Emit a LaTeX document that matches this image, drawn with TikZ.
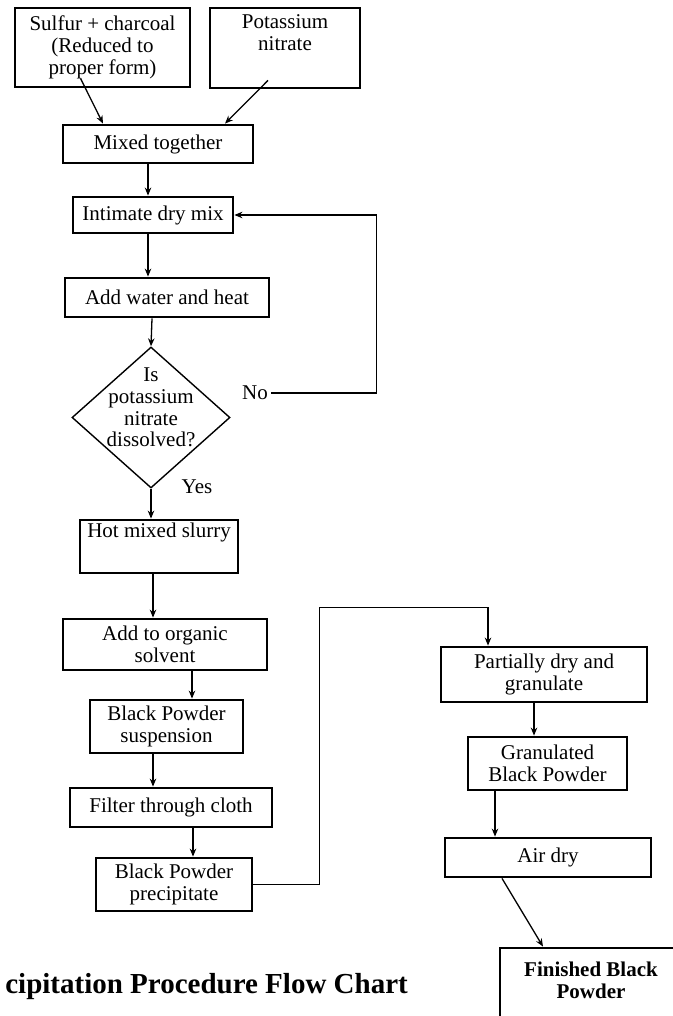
\documentclass[tikz,border=0pt]{standalone}
\usepackage{fontspec}
\setmainfont{Liberation Serif}
\usetikzlibrary{arrows.meta,shapes.geometric}
\tikzstyle{box} = [draw, line width=2.8pt, align=center, inner sep=1pt]
\tikzstyle{decision} = [draw, diamond, line width=1.4pt, inner sep=0pt, minimum width=158pt, minimum height=141pt]
\tikzstyle{flow} = [draw, line width=1.3pt, -{Stealth[length=8pt,width=6.5pt]}]
\tikzstyle{toptext} = [align=center, inner sep=2pt]

\begin{document}
\begin{tikzpicture}[x=1pt, y=-1pt, font=\fontsize{21}{21.7}\selectfont]
    \useasboundingbox (0,0) rectangle (672,1016);
    % left column
    \node[box, minimum width=175pt, minimum height=79pt] (sulfur) at (102.5,47.5) {Sulfur + charcoal\\(Reduced to\\proper form)};
    \node[box, minimum width=150pt, minimum height=80pt, label={[toptext, anchor=north, yshift=-6pt]north:Potassium\\nitrate}] (pot) at (285,48) {};
    \node[box, minimum width=190pt, minimum height=38pt] (mix) at (158,144) {Mixed together};
    \node[box, minimum width=160pt, minimum height=36pt, below of=mix, node distance=71pt, xshift=-5pt] (dry) {Intimate dry mix};
    \node[box, minimum width=204pt, minimum height=39pt, below of=dry, node distance=82.5pt, xshift=14pt] (water) {Add water and heat};
    \node[decision, below of=water, node distance=120pt, xshift=-16pt] (dec) {};
    \node[align=center] (ques) at ([yshift=10pt]dec.center) {Is\\potassium\\nitrate\\dissolved?};
    \node (no) at (255,393) {No};
    \node (yes) at (197,487) {Yes};
    \node[box, minimum width=158pt, minimum height=53pt, below of=dec, node distance=129pt, xshift=8pt, label={[toptext, anchor=north, yshift=-2pt]north:Hot mixed slurry}] (slurry) {};
    \node[box, minimum width=204pt, minimum height=51pt, below of=slurry, node distance=98pt, xshift=6pt] (organic) {Add to organic\\solvent};
    \node[box, minimum width=153pt, minimum height=53pt, below of=organic, node distance=82pt, xshift=1.5pt] (susp) {Black Powder\\suspension};
    \node[box, minimum width=202pt, minimum height=39pt, below of=susp, node distance=81pt, xshift=4.5pt] (filter) {Filter through cloth};
    \node[box, minimum width=156pt, minimum height=53pt, below of=filter, node distance=77pt, xshift=3pt] (precip) {Black Powder\\precipitate};
    % right column
    \node[box, minimum width=206pt, minimum height=55pt] (part) at (544,674.5) {Partially dry and\\granulate};
    \node[box, minimum width=159pt, minimum height=53pt, below of=part, node distance=89pt, xshift=3.5pt] (gran) {Granulated\\Black Powder};
    \node[box, minimum width=206pt, minimum height=39pt, below of=gran, node distance=94pt, xshift=0.5pt] (air) {Air dry};
    \node[box, minimum width=182pt, minimum height=72pt, below of=air, node distance=126.5pt, xshift=43pt, label={[anchor=north, align=center, inner sep=0pt, yshift=-15pt, font=\fontsize{21}{21.7}\selectfont\bfseries]north:Finished Black\\Powder}] (fin) {};
    \node[anchor=east, inner sep=0pt, font=\fontsize{29}{32}\selectfont\bfseries] (title) at (408,987) {cipitation Procedure Flow Chart};
    % connectors
    \draw[flow] ([xshift=-22pt,yshift=10pt]sulfur.south) -- ([xshift=-55pt]mix.north);
    \draw[flow] ([xshift=-17pt,yshift=9pt]pot.south) -- ([xshift=67pt]mix.north);
    \draw[flow] ([xshift=-10pt]mix.south) -- ([xshift=-10pt]mix.south |- dry.north);
    \draw[flow] ([xshift=-5pt]dry.south) -- ([xshift=-5pt]dry.south |- water.north);
    \draw[flow] ([xshift=-15pt]water.south) -- (dec.north);
    \draw[flow] (no.east) -- ++(105,0) |- (dry.east);
    \draw[flow] (dec.south) -- (dec.south |- slurry.north);
    \draw[flow] ([xshift=-6pt]slurry.south) -- ([xshift=-6pt]slurry.south |- organic.north);
    \draw[flow] ([xshift=27pt]organic.south) -- ([xshift=27pt]organic.south |- susp.north);
    \draw[flow] ([xshift=-13.5pt]susp.south) -- ([xshift=-13.5pt]susp.south |- filter.north);
    \draw[flow] ([xshift=22pt]filter.south) -- ([xshift=22pt]filter.south |- precip.north);
    \draw[flow] (precip.east) -- ++(66,0) |- ([xshift=-56pt,yshift=38pt]part.north) -- ([xshift=-56pt]part.north);
    \draw[flow] ([xshift=-10pt]part.south) -- ([xshift=-10pt]part.south |- gran.north);
    \draw[flow] ([xshift=-52.5pt]gran.south) -- ([xshift=-52.5pt]gran.south |- air.north);
    \draw[flow] ([xshift=-46pt]air.south) -- ([xshift=-48pt]fin.north);
\end{tikzpicture}
\end{document}
